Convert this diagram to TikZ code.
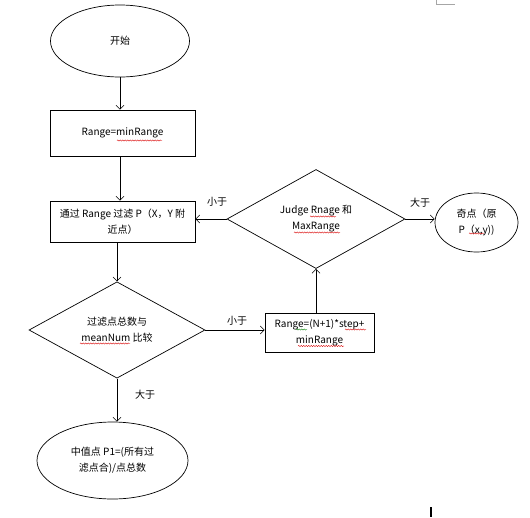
\documentclass[tikz,border=0pt]{standalone}
\usepackage{fontspec}
\setmainfont{Noto Sans CJK SC}
\usetikzlibrary{shapes.geometric,arrows.meta,decorations.pathmorphing}
\begin{document}
\begin{tikzpicture}[x=1pt,y=-1pt,
  every node/.style={font=\fontsize{10}{16}\selectfont, align=center, inner sep=0pt},
  ell/.style={ellipse, draw, line width=0.7pt},
  box/.style={rectangle, draw, line width=0.7pt},
  dia/.style={diamond, draw, line width=0.7pt},
  arr/.style={line width=0.7pt, -{Straight Barb[length=4pt,width=8pt,line width=0.6pt]}},
  lbl/.style={font=\fontsize{10}{12}\selectfont},
  wavy/.style={red!85!black, line width=0.4pt, decorate, decoration={snake, amplitude=0.6pt, segment length=2.5pt}},
  wavyg/.style={wavy, green!50!black}]
\useasboundingbox (0,0) rectangle (530,517);
\node[ell, minimum width=139pt, minimum height=72pt] (start) at (120,41) {开始};
\node[box, minimum width=145pt, minimum height=46pt] (r1) at (122.5,133) {Range=minRange};
\node[box, minimum width=145pt, minimum height=41pt] (r2) at (122.5,221.5) {通过 Range 过滤 P（X，Y 附\\近点）};
\node[dia, minimum width=178pt, minimum height=82pt] (d1) at (316,219) {Judge Rnage 和\\MaxRange};
\node[ell, minimum width=83pt, minimum height=59pt] (e2) at (476.5,222.5) {奇点（原\\P（x,y))};
\node[dia, minimum width=176pt, minimum height=90pt] (d2) at (117,330) {过滤点总数与\\meanNum 比较};
\node[box, minimum width=109pt, minimum height=39pt] (r3) at (319.5,332.5) {Range=(N+1)*step+\\minRange};
\node[ell, minimum width=151pt, minimum height=77pt] (e3) at (112.5,460.5) {中值点 P1=(所有过\\滤点合)/点总数};

\draw[arr] (start.south -| 120,0) -- (r1.north -| 120,0);
\draw[arr] (r1.south -| 120,0) -- (r2.north -| 120,0);
\draw[arr] (d1.west) -- (d1.west -| r2.east);
\draw[arr] (d1.east) -- (d1.east -| e2.west);
\draw[arr] (r2.south -| d2.north) -- (d2.north);
\draw[arr] (d2.east) -- (d2.east -| r3.west);
\draw[arr] (r3.north -| d1.south) -- (d1.south);
\draw[arr] (d2.south) -- (d2.south |- e3.north);

\node[lbl] (l1) at (217,202) {小于};
\node[lbl] (l2) at (420,203) {大于};
\node[lbl] (l3) at (237,321) {小于};
\node[lbl] (l4) at (145,395) {大于};

% spell-check underlines
\draw[wavy] (117,140.5) -- (162,140.5);
\draw[wavy] (310,216.5) -- (336,216.5);
\draw[wavy] (294,232.5) -- (340,232.5);
\draw[wavy] (469,233.5) -- (484,233.5);
\draw[wavy] (80,343.5) -- (130,343.5);
\draw[wavyg] (296,329.5) -- (307,329.5);
\draw[wavy] (345,329.5) -- (366,329.5);
\draw[wavy] (298,346) -- (344,346);

\draw[gray!70, line width=0.6pt] (436,0) -- (436,4) -- (455,4);
\draw[black, line width=1.5pt] (431,507) -- (431,517);
\end{tikzpicture}
\end{document}
